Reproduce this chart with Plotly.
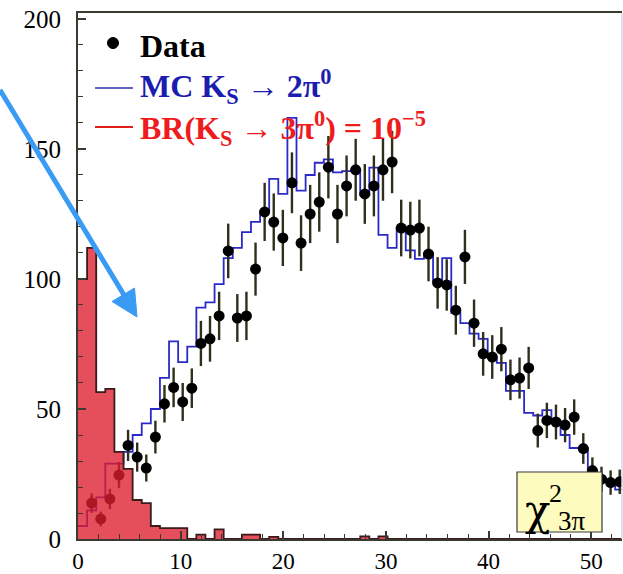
import plotly.graph_objects as go

# ---------------- data ----------------
BIN_WIDTH = 0.887          # histogram bin width in chi2 units
N_BINS = 60

data_bins = list(range(1, 60))
data_counts = [13.8, 7.7, 15.4, 24.6, 36, 31.5, 27.3, 39.2, 52, 58.3,
               52.7, 58, 75.2, 77, 85.8, 110.8, 85, 85.8, 103.8, 125.8,
               121.9, 115.8, 137, 113.8, 125, 129.6, 143, 125, 135.8, 142,
               132.7, 135.8, 142, 145, 119.6, 118.8, 119.6, 109.6, 98.5, 97.7,
               88, 108.5, 83, 71.2, 70, 73, 61.2, 61.9, 65.8, 41.7,
               45.6, 45, 43.8, 46.9, 34.8, 26.3, 23, 21.7, 22]
data_errors = [3.7, 2.8, 3.9, 5.0, 6.0, 5.6, 5.2, 6.3, 7.2, 7.6,
               7.3, 7.6, 8.7, 8.8, 9.3, 10.5, 9.2, 9.3, 10.2, 11.2,
               11.0, 10.8, 11.7, 10.7, 11.2, 11.4, 12.0, 11.2, 11.7, 11.9,
               11.5, 11.7, 11.9, 12.0, 10.9, 10.9, 10.9, 10.5, 9.9, 9.9,
               9.4, 10.4, 9.1, 8.4, 8.4, 8.5, 7.8, 7.9, 8.1, 6.5,
               6.8, 6.7, 6.6, 6.8, 5.9, 5.1, 4.8, 4.7, 4.7]

mc_2pi0 = [5, 11, 16, 29, 29, 33.5, 40, 44.5, 50, 62,
           76, 68, 74, 89, 91, 98, 108, 112, 118, 122,
           126, 138.5, 132.7, 162, 134, 140, 144.7, 146, 141, 141.5,
           142, 132.3, 142.8, 117, 112, 119.6, 111, 107.7, 110, 99,
           108, 87, 83, 79, 77, 70, 67.7, 57, 57, 48.5,
           47.5, 49.6, 45.5, 40, 35, 35, 26.5, 23.5, 22, 19]

br_3pi0 = [100, 112, 56.5, 57.7, 33.5, 27, 15, 13.8, 5, 4.2,
           4.2, 4.2, 0, 1.7, 0, 3.7, 0, 0, 1.7, 1.7,
           0, 0.8, 0, 0, 0, 0, 0, 0, 0, 0,
           0, 1, 0, 1, 0, 0, 0, 0, 0, 0,
           0, 0, 0, 0, 0, 0, 0, 0, 0, 0,
           0, 0, 0, 0, 0, 0, 0, 0, 0, 0]

x_ticks = [0, 10, 20, 30, 40, 50]
y_ticks = [0, 50, 100, 150, 200]

legend_data = "Data"
legend_mc = "MC K<sub>S</sub> → 2π<sup>0</sup>"
legend_br = "BR(K<sub>S</sub> → 3π<sup>0</sup>) = 10<sup>−5</sup>"

# ---------------- derived bin geometry ----------------
edges = [i * BIN_WIDTH for i in range(N_BINS + 1)]
data_x = [(b + 0.5) * BIN_WIDTH for b in data_bins]

SERIF = "Liberation Serif, Times New Roman, serif"

fig = go.Figure()

# MC K_S -> 2pi0 (blue step histogram)
fig.add_trace(go.Scatter(
    x=edges, y=mc_2pi0 + [mc_2pi0[-1]], mode="lines",
    line=dict(shape="hv", color="#2a2ac8", width=1.8),
    showlegend=False, hoverinfo="skip"))

# Data points
fig.add_trace(go.Scatter(
    x=data_x, y=data_counts, mode="markers",
    marker=dict(color="black", size=11),
    error_y=dict(type="data", array=data_errors, color="#2f2f1c",
                 thickness=2.4, width=0),
    showlegend=False))

# BR(K_S -> 3pi0) = 1e-5 (red filled histogram, drawn on top, semi transparent)
fig.add_trace(go.Scatter(
    x=edges, y=br_3pi0 + [br_3pi0[-1]], mode="lines",
    line=dict(shape="hv", color="#3a1a1a", width=1.8),
    fill="tozeroy", fillcolor="rgba(222,28,45,0.78)",
    showlegend=False, hoverinfo="skip"))

L, R, T, B = 78, 1, 13, 35
W, H = 623, 574
PW, PH = W - L - R, H - T - B


def px(xp):
    return (xp - L) / PW


def py(yp):
    return (H - B - yp) / PH


shapes = []
# right border (faint)
shapes.append(dict(type="line", xref="paper", yref="paper", x0=1, x1=1, y0=0, y1=1,
                   line=dict(color="#d6d6ec", width=1.5)))
# blue arrow
shapes.append(dict(type="line", xref="paper", yref="paper",
                   x0=px(0), y0=py(90), x1=px(124), y1=py(295),
                   line=dict(color="#3a9bf5", width=5)))
shapes.append(dict(type="path", xref="paper", yref="paper",
                   path=f"M {px(137)},{py(317)} L {px(112)},{py(301.5)} L {px(134.5)},{py(288)} Z",
                   fillcolor="#3a9bf5", line=dict(color="#3a9bf5", width=1)))
# legend markers
shapes.append(dict(type="circle", xref="paper", yref="paper",
                   x0=px(107.5), x1=px(118.5), y0=py(48.5), y1=py(37.5),
                   fillcolor="black", line=dict(color="black", width=1)))
shapes.append(dict(type="line", xref="paper", yref="paper",
                   x0=px(95), x1=px(133), y0=py(88), y1=py(88),
                   line=dict(color="#3030a8", width=1.6)))
shapes.append(dict(type="line", xref="paper", yref="paper",
                   x0=px(95), x1=px(133), y0=py(127), y1=py(127),
                   line=dict(color="#e01e1e", width=2)))
# chi2 label box
shapes.append(dict(type="rect", xref="paper", yref="paper", layer="above",
                   x0=px(517), x1=px(602), y0=py(532), y1=py(472),
                   fillcolor="#fefbbe", line=dict(color="#3a3a3a", width=1.2)))

annotations = [
    dict(text=f"<b>{legend_data}</b>", x=px(138), y=py(46), xanchor="left", yanchor="middle",
         font=dict(family=SERIF, size=32, color="black")),
    dict(text=f"<b>{legend_mc}</b>", x=px(138), y=py(87), xanchor="left", yanchor="middle",
         font=dict(family=SERIF, size=32, color="#1c1cb0")),
    dict(text=f"<b>{legend_br}</b>", x=px(138), y=py(128), xanchor="left", yanchor="middle",
         font=dict(family=SERIF, size=32, color="#ee1c1c")),
    dict(text="χ", x=px(537), y=py(510), xanchor="center", yanchor="middle",
         font=dict(family="DejaVu Serif, serif", size=42, color="black")),
    dict(text="2", x=px(555), y=py(493), xanchor="center", yanchor="middle",
         font=dict(family=SERIF, size=26, color="black")),
    dict(text="3π", x=px(572), y=py(521), xanchor="center", yanchor="middle",
         font=dict(family=SERIF, size=27, color="black")),
]
for a in annotations:
    a.update(xref="paper", yref="paper", showarrow=False)

axis_col = "#3a3a30"
fig.update_layout(
    width=W, height=H,
    margin=dict(l=L, r=R, t=T, b=B),
    paper_bgcolor="white", plot_bgcolor="white",
    shapes=shapes, annotations=annotations,
    showlegend=False,
    xaxis=dict(range=[0, 53], tickvals=x_ticks, ticks="inside", ticklen=8,
               tickwidth=1.5, tickcolor=axis_col, showline=True, linecolor=axis_col,
               linewidth=2, mirror=True, showgrid=False, zeroline=False,
               automargin=False,
               minor=dict(dtick=2, ticks="inside", ticklen=5, tickcolor=axis_col, tickwidth=1.2),
               tickfont=dict(family=SERIF, size=23, color="black"),
               ticklabelstandoff=0),
    yaxis=dict(range=[0, 202.3], tickvals=y_ticks, ticks="inside", ticklen=8,
               tickwidth=1.5, tickcolor=axis_col, showline=True, linecolor=axis_col,
               linewidth=2, showgrid=False, zeroline=False,
               automargin=False,
               minor=dict(dtick=10, ticks="inside", ticklen=5, tickcolor=axis_col, tickwidth=1.2),
               tickfont=dict(family=SERIF, size=25, color="black"),
               ticklabelstandoff=10),
)

fig.write_html("out.html")
